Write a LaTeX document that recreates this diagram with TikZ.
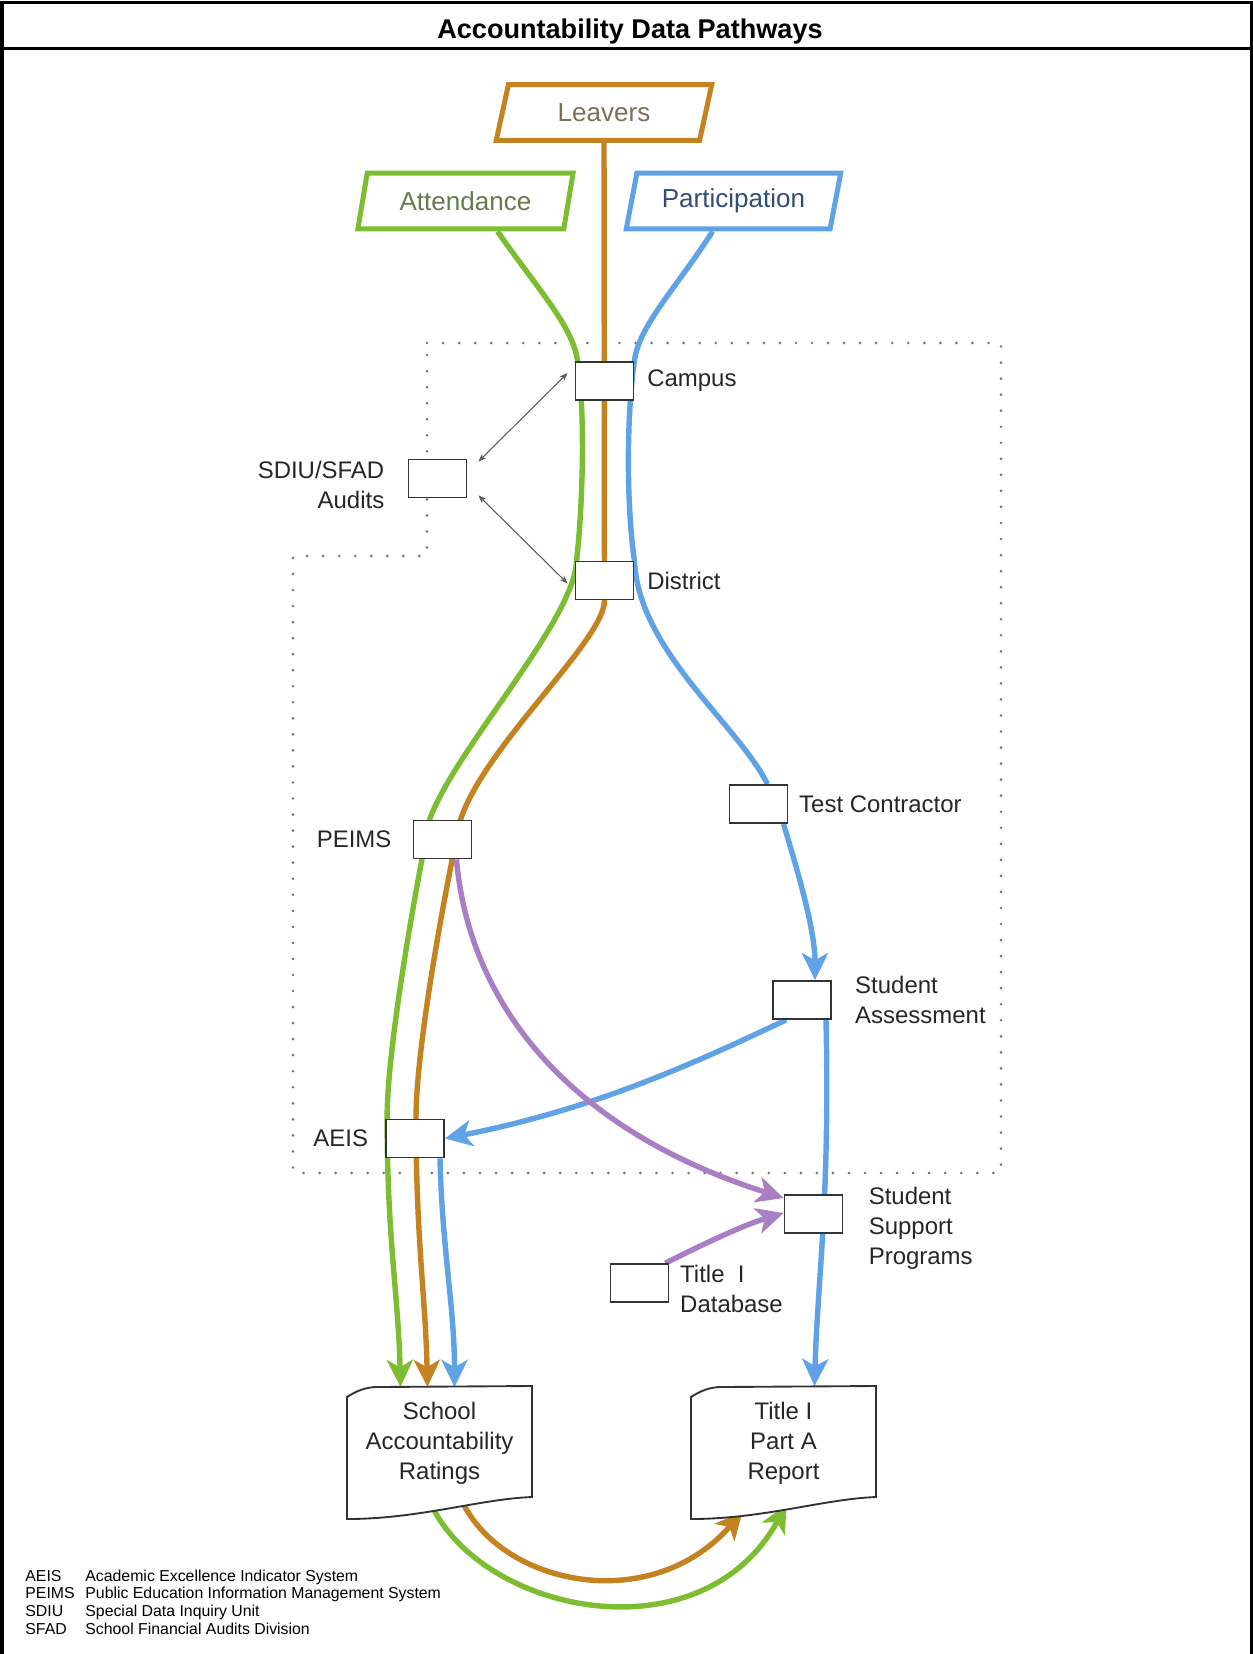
\documentclass[tikz,border=0pt]{standalone}
\usepackage{fontspec}
\setmainfont{Liberation Sans}
\usepackage{tikz}
\usetikzlibrary{arrows.meta,positioning,shapes.geometric,calc,backgrounds}

\definecolor{attgreen}{RGB}{125,189,50}
\definecolor{leavbrown}{RGB}{196,130,32}
\definecolor{partblue}{RGB}{96,162,230}
\definecolor{suppurple}{RGB}{170,126,196}
\definecolor{atttext}{RGB}{100,125,75}
\definecolor{leavtext}{RGB}{125,110,90}
\definecolor{parttext}{RGB}{50,78,115}

% wavy report outline round a document node
\newcommand{\docshape}[1]{%
  \path[docline, shift={(#1)}] (-92.5,-46) .. controls (-83,-52) and (-74,-56) .. (-62,-56)
    -- (92.5,-57) -- (92.5,54) .. controls (40,56) and (-20,76) .. (-92.5,76) -- cycle;}

\begin{document}
\begin{tikzpicture}[
  x=0.48pt, y=-0.48pt,
  station/.style={draw=black!80, line width=0.9pt, fill=white, minimum width=27.8pt, minimum height=18.2pt, inner sep=0pt},
  lbl/.style={inner sep=0pt, font=\fontsize{11.5}{14.4}\selectfont, text=black!85},
  source/.style={trapezium, trapezium left angle=72, trapezium right angle=108, trapezium stretches=true,
    minimum width=103.7pt, minimum height=26.8pt, line width=2.4pt, fill=white, inner sep=0pt, font=\fontsize{12.5}{15}\selectfont},
  docnode/.style={align=center, inner sep=0pt, font=\fontsize{11.5}{14.4}\selectfont, text=black!85},
  docline/.style={draw=black!80, line width=0.9pt, fill=white},
  flow/.style={line width=2.6pt},
  arr/.style={-{Stealth[length=13pt, width=12.5pt, inset=3.5pt]}},
  audit/.style={{Stealth[length=4pt, width=3pt]}-{Stealth[length=4pt, width=3pt]}, line width=0.5pt, draw=black!65},
  region/.style={draw=black!55, line width=1.4pt, dash pattern=on 0pt off 7.7pt, line cap=round},
  outerframe/.style={line width=1.45pt},
]
  \useasboundingbox (0,0) rectangle (1253,1654);

  % Title bar
  \node[font=\fontsize{13}{15}\selectfont\bfseries] (title) at (630,31) {Accountability Data Pathways};
  \draw[outerframe] (2,1654) -- (2,2.5) -- (1251.5,2.5) -- (1251.5,1654);
  \draw[outerframe] (2,48.5) -- (1251.5,48.5);

  % Data sources
  \node[source, draw=leavbrown, text=leavtext] (leavers) at (604,112.5) {Leavers};
  \node[source, draw=attgreen, text=atttext] (att) at (465.5,201) {Attendance};
  \node[source, draw=partblue, text=parttext] (part) at (733.5,201) {Participation};

  % Stations
  \node[station] (campus) at (604.5,381) {};
  \node[station] (district) at (604.5,580.5) {};
  \node[station] (sdiu) at (437.5,478.5) {};
  \node[station] (peims) at (442.5,839.5) {};
  \node[station] (tc) at (758.5,804) {};
  \node[station] (sa) at (802,1000) {};
  \node[station] (aeis) at (415,1138.5) {};
  \node[station] (ssp) at (813.5,1214) {};
  \node[station] (td) at (639.5,1283) {};

  % Station labels
  \node[lbl, right=6pt of campus] {Campus};
  \node[lbl, right=6pt of district] {District};
  \node[lbl, left=11pt of sdiu, yshift=-3pt, align=right] {SDIU/SFAD\\Audits};
  \node[lbl, left=10pt of peims] {PEIMS};
  \node[lbl, right=5pt of tc] {Test Contractor};
  \node[lbl, right=11pt of sa, align=left] {Student\\Assessment};
  \node[lbl, left=8pt of aeis] {AEIS};
  \node[lbl, right=12pt of ssp, yshift=-7pt, align=left] {Student\\Support\\Programs};
  \node[lbl, right=5pt of td, yshift=-3pt, align=left] {Title\ \ I\\Database};

  % Reports
  \node[docnode] (rating) at (439.5,1443) {School\\Accountability\\Ratings};
  \node[docnode] (report) at (783.5,1443) {Title I\\Part A\\Report};

  % Audits
  \draw[audit] ($(sdiu.north east)+(11,3)$) -- ($(campus.west)+(-7,-8)$);
  \draw[audit] ($(sdiu.south east)+(11,-3)$) -- ($(district.west)+(-7,3)$);

  % Legend
  \node[anchor=base west, inner sep=0pt, font=\fontsize{7.6}{8.5}\selectfont] (legend) at (25,1581) {%
    \begin{tabular}[t]{@{}p{28.8pt}@{}l@{}}
      AEIS & Academic Excellence Indicator System\\
      PEIMS & Public Education Information Management System\\
      SDIU & Special Data Inquiry Unit\\
      SFAD & School Financial Audits Division
    \end{tabular}};

  \begin{scope}[on background layer]
    % agency boundary
    \draw[region] (427,343) -- (1001,343) -- (1001,1173) -- (293,1173) -- (293,556) -- (427,556) -- cycle;

    % Attendance pathway
    \draw[flow, attgreen, arr] ($(att.south)+(32,0)$) .. controls +(42,60) and +(-5,-35) .. ($(campus.north west)+(3,0)$)
      .. controls +(8,55) and +(6,-55) .. ($(district.north west)+(2,0)$)
      .. controls +(-2,60) and +(25,-70) .. ($(peims.north west)+(17,0)$)
      .. controls +(-8,40) and +(0,-80) .. ($(aeis.north west)+(2,0)$)
      .. controls +(0,120) and +(-2,-90) .. ($(rating)+(-39,-56)$);

    % Leavers pathway
    \draw[flow, leavbrown, arr] (leavers.south) -- (district.south)
      .. controls +(0,40) and +(25,-75) .. ($(peims.north)+(18,0)$)
      .. controls +(-9,40) and +(0,-80) .. ($(aeis.north)+(1,0)$)
      .. controls +(0,120) and +(-2,-90) .. ($(rating)+(-12,-56)$);

    % Participation pathway
    \draw[flow, partblue] ($(part.south)+(-21,0)$) .. controls +(-35,55) and +(4,-35) .. (campus.north east)
      .. controls +(-8,55) and +(-8,-55) .. (district.north east)
      .. controls +(4,90) and +(-30,-60) .. ($(tc.north)+(9,0)$);
    \draw[flow, partblue, arr] ($(tc.south)+(25,0)$) .. controls +(15,50) and +(0,-50) .. ($(sa.north)+(13,0)$);
    \draw[flow, partblue, arr] ($(sa.south west)+(14,0)$) .. controls +(-87,41) and +(153,-30) .. (aeis.east);
    \draw[flow, partblue, arr] ($(sa.south)+(24,0)$) .. controls +(4,180) and +(3,-106) .. ($(report)+(31,-57)$);
    \draw[flow, partblue, arr] ($(aeis.south)+(25,0)$) .. controls +(2,90) and +(0,-80) .. ($(rating)+(15,-56)$);

    % Support programs
    \draw[flow, suppurple, arr] ($(peims.south)+(14,0)$) .. controls +(12,140) and +(-220,-70) .. ($(ssp.west)+(0,-16)$);
    \draw[flow, suppurple, arr] ($(td.north east)+(-4,0)$) .. controls +(40,-20) and +(-40,12) .. ($(ssp.west)+(0,-1)$);

    % Ratings feed the Title I report
    \draw[flow, leavbrown, arr] ($(rating)+(22,57)$) .. controls +(39,85) and +(-92,105) .. ($(report)+(-41,69)$);
    \draw[flow, attgreen, arr] ($(rating)+(-9,60)$) .. controls +(50,110) and +(-86,155) .. ($(report)+(3,62)$);

    \docshape{rating}
    \docshape{report}
  \end{scope}
\end{tikzpicture}
\end{document}
